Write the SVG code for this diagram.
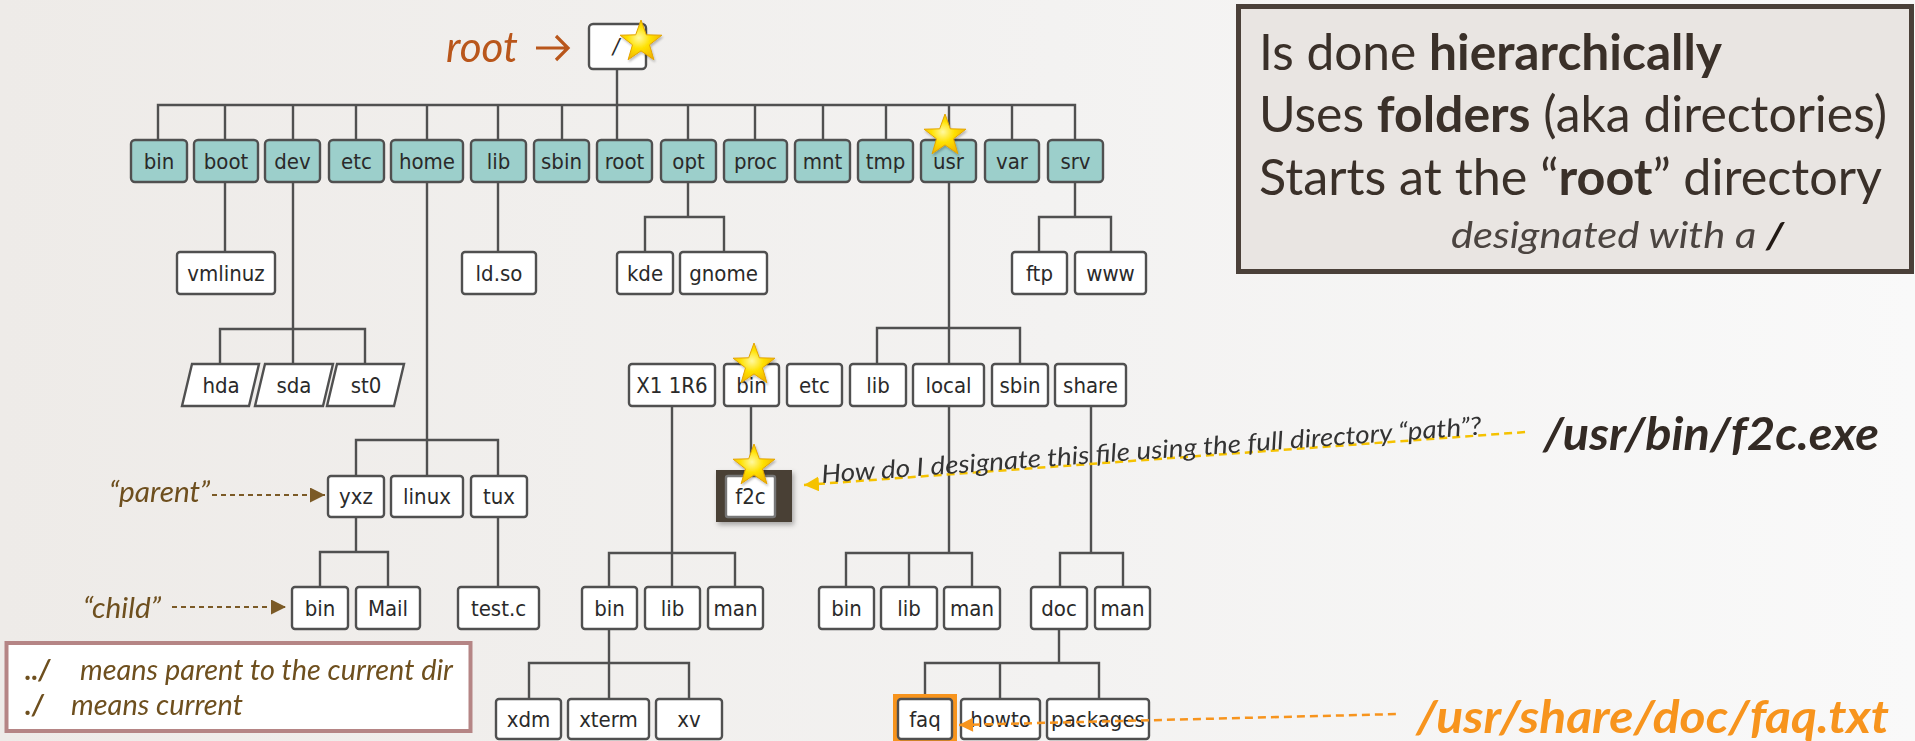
<svg xmlns="http://www.w3.org/2000/svg" width="1915" height="741" viewBox="0 0 1915 741">
<defs>
<linearGradient id="bg" x1="0" y1="0" x2="1" y2="0">
<stop offset="0" stop-color="#eeebe8"/><stop offset="0.55" stop-color="#f3f2f1"/><stop offset="1" stop-color="#f9f9f9"/>
</linearGradient>
<radialGradient id="starG" cx="0.45" cy="0.45" r="0.6">
<stop offset="0" stop-color="#fff9a0"/><stop offset="0.45" stop-color="#ffe100"/><stop offset="1" stop-color="#f0b000"/>
</radialGradient>
<path id="star" d="M0,-22 L5.3,-7.2 L20.9,-6.8 L8.5,2.8 L12.9,17.8 L0,8.9 L-12.9,17.8 L-8.5,2.8 L-20.9,-6.8 L-5.3,-7.2 Z"/>
<filter id="sh" x="-20%" y="-20%" width="150%" height="150%"><feDropShadow dx="2" dy="3" stdDeviation="2.5" flood-color="#000" flood-opacity="0.3"/></filter>
<filter id="sh2" x="-10%" y="-10%" width="130%" height="140%"><feDropShadow dx="1" dy="2" stdDeviation="1.2" flood-color="#000" flood-opacity="0.25"/></filter>
<marker id="aY" viewBox="0 0 10 10" refX="10" refY="5" markerUnits="userSpaceOnUse" markerWidth="15" markerHeight="15" orient="auto-start-reverse"><path d="M0,0 L10,5 L0,10 Z" fill="#f5c200"/></marker>
<marker id="aO" viewBox="0 0 10 10" refX="10" refY="5" markerUnits="userSpaceOnUse" markerWidth="15" markerHeight="14" orient="auto-start-reverse"><path d="M0,0 L10,5 L0,10 Z" fill="#f7941d"/></marker>
<marker id="aB" viewBox="0 0 10 10" refX="10" refY="5" markerUnits="userSpaceOnUse" markerWidth="15" markerHeight="15" orient="auto"><path d="M0,0 L10,5 L0,10 Z" fill="#7b5a26"/></marker>
</defs>
<style>
.n rect, .n polygon { fill:#ffffff; stroke:#505050; stroke-width:2.4; }
.t rect { fill:#9ccfcb; }
.n text { font-family:'DejaVu Sans Condensed','DejaVu Sans',sans-serif; font-stretch:condensed; font-size:22px; fill:#2a2a2a; text-anchor:middle; }
#connectors path { fill:none; stroke:#505050; stroke-width:2.4; }
.star use { fill:url(#starG); stroke:#e3a400; stroke-width:1; }
.cal { font-family:Lato,'Open Sans',sans-serif; }
.box { fill:#3a3029; font-size:50px; }
.br { fill:#6e4f1e; font-style:italic; }
</style>
<rect width="1915" height="741" fill="url(#bg)"/>

<g id="connectors">
<path d="M617,69 V140"/>
<path d="M158,140 V105 H1075 V140"/>
<path d="M225,105V140 M293,105V140 M356,105V140 M427,105V140 M498,105V140 M562,105V140 M688,105V140 M755,105V140 M823,105V140 M886,105V140 M949,105V140 M1012,105V140"/>
<path d="M225,182 V252"/>
<path d="M293,182 V364 M220,364 V329 H365 V364"/>
<path d="M427,182 V476 M356,476 V440 H498 V476"/>
<path d="M498,182 V252"/>
<path d="M688,182 V217 M645,252 V217 H724 V252"/>
<path d="M1075,182 V217 M1039,252 V217 H1111 V252"/>
<path d="M949,182 V364 M877,364 V328 H1020 V364"/>
<path d="M949,406 V553 M846,587 V553 H972 V587 M909,553 V587"/>
<path d="M672,406 V587 M609,587 V553 H735 V587"/>
<path d="M609,629 V699 M529,699 V663 H689 V699"/>
<path d="M751,406 V475"/>
<path d="M356,517 V552 M320,587 V552 H388 V587"/>
<path d="M498,517 V587"/>
<path d="M1091,406 V553 M1060,587 V553 H1123 V587"/>
<path d="M1059,629 V663 M925,699 V663 H1099 V699 M1000,663 V699"/>
</g>

<g id="n-slash" class="n"><rect x="589" y="24" width="57" height="45" rx="4"/><text x="616" y="54" font-style="italic">/</text></g>

<g id="n-bin" class="n t"><rect x="131" y="140" width="56" height="42" rx="4"/><text x="159" y="169">bin</text></g>
<g id="n-boot" class="n t"><rect x="194" y="140" width="64" height="42" rx="4"/><text x="226" y="169">boot</text></g>
<g id="n-dev" class="n t"><rect x="265" y="140" width="55" height="42" rx="4"/><text x="292.5" y="169">dev</text></g>
<g id="n-etc" class="n t"><rect x="329" y="140" width="55" height="42" rx="4"/><text x="356.5" y="169">etc</text></g>
<g id="n-home" class="n t"><rect x="391" y="140" width="72" height="42" rx="4"/><text x="427" y="169">home</text></g>
<g id="n-lib" class="n t"><rect x="471" y="140" width="55" height="42" rx="4"/><text x="498.5" y="169">lib</text></g>
<g id="n-sbin" class="n t"><rect x="534" y="140" width="55" height="42" rx="4"/><text x="561.5" y="169">sbin</text></g>
<g id="n-root" class="n t"><rect x="597" y="140" width="55" height="42" rx="4"/><text x="624.5" y="169">root</text></g>
<g id="n-opt" class="n t"><rect x="661" y="140" width="55" height="42" rx="4"/><text x="688.5" y="169">opt</text></g>
<g id="n-proc" class="n t"><rect x="724" y="140" width="63" height="42" rx="4"/><text x="755.5" y="169">proc</text></g>
<g id="n-mnt" class="n t"><rect x="795" y="140" width="55" height="42" rx="4"/><text x="822.5" y="169">mnt</text></g>
<g id="n-tmp" class="n t"><rect x="858" y="140" width="55" height="42" rx="4"/><text x="885.5" y="169">tmp</text></g>
<g id="n-usr" class="n t"><rect x="921" y="140" width="55" height="42" rx="4"/><text x="948.5" y="169">usr</text></g>
<g id="n-var" class="n t"><rect x="985" y="140" width="54" height="42" rx="4"/><text x="1012" y="169">var</text></g>
<g id="n-srv" class="n t"><rect x="1048" y="140" width="55" height="42" rx="4"/><text x="1075.5" y="169">srv</text></g>

<g id="n-vmlinuz" class="n"><rect x="177" y="252" width="98" height="42" rx="3"/><text x="226" y="281">vmlinuz</text></g>
<g id="n-ldso" class="n"><rect x="462" y="252" width="74" height="42" rx="3"/><text x="499" y="281">ld.so</text></g>
<g id="n-kde" class="n"><rect x="617" y="252" width="56" height="42" rx="3"/><text x="645" y="281">kde</text></g>
<g id="n-gnome" class="n"><rect x="680" y="252" width="87" height="42" rx="3"/><text x="723.5" y="281">gnome</text></g>
<g id="n-ftp" class="n"><rect x="1012" y="252" width="55" height="42" rx="3"/><text x="1039.5" y="281">ftp</text></g>
<g id="n-www" class="n"><rect x="1075" y="252" width="71" height="42" rx="3"/><text x="1110.5" y="281">www</text></g>

<g id="n-hda" class="n"><polygon points="192,364 259,364 249,406 182,406"/><text x="221" y="393">hda</text></g>
<g id="n-sda" class="n"><polygon points="265,364 333,364 323,406 255,406"/><text x="294" y="393">sda</text></g>
<g id="n-st0" class="n"><polygon points="337,364 404,364 394,406 327,406"/><text x="366" y="393">st0</text></g>
<g id="n-x11r6" class="n"><rect x="629" y="364" width="86" height="42" rx="3"/><text x="672" y="393">X1 1R6</text></g>
<g id="n-usr-bin" class="n"><rect x="724" y="364" width="55" height="42" rx="3"/><text x="751.5" y="393">bin</text></g>
<g id="n-usr-etc" class="n"><rect x="787" y="364" width="55" height="42" rx="3"/><text x="814.5" y="393">etc</text></g>
<g id="n-usr-lib" class="n"><rect x="850" y="364" width="56" height="42" rx="3"/><text x="878" y="393">lib</text></g>
<g id="n-local" class="n"><rect x="913" y="364" width="71" height="42" rx="3"/><text x="948.5" y="393">local</text></g>
<g id="n-usr-sbin" class="n"><rect x="992" y="364" width="56" height="42" rx="3"/><text x="1020" y="393">sbin</text></g>
<g id="n-share" class="n"><rect x="1055" y="364" width="71" height="42" rx="3"/><text x="1090.5" y="393">share</text></g>

<g id="n-yxz" class="n"><rect x="328" y="476" width="56" height="41" rx="3"/><text x="356" y="504">yxz</text></g>
<g id="n-linux" class="n"><rect x="391" y="476" width="72" height="41" rx="3"/><text x="427" y="504">linux</text></g>
<g id="n-tux" class="n"><rect x="471" y="476" width="56" height="41" rx="3"/><text x="499" y="504">tux</text></g>
<g id="n-f2c" class="n"><rect x="716" y="470" width="76" height="52" style="fill:#4a3f36;stroke:none" filter="url(#sh)"/><rect x="726" y="476" width="49" height="41" rx="2" style="stroke:#777"/><text x="750.5" y="504">f2c</text></g>

<g id="n-yxz-bin" class="n"><rect x="292" y="587" width="56" height="42" rx="3"/><text x="320" y="616">bin</text></g>
<g id="n-mail" class="n"><rect x="356" y="587" width="64" height="42" rx="3"/><text x="388" y="616">Mail</text></g>
<g id="n-testc" class="n"><rect x="458" y="587" width="81" height="42" rx="3"/><text x="498.5" y="616">test.c</text></g>
<g id="n-x-bin" class="n"><rect x="582" y="587" width="55" height="42" rx="3"/><text x="609.5" y="616">bin</text></g>
<g id="n-x-lib" class="n"><rect x="645" y="587" width="55" height="42" rx="3"/><text x="672.5" y="616">lib</text></g>
<g id="n-x-man" class="n"><rect x="708" y="587" width="55" height="42" rx="3"/><text x="735.5" y="616">man</text></g>
<g id="n-l-bin" class="n"><rect x="819" y="587" width="55" height="42" rx="3"/><text x="846.5" y="616">bin</text></g>
<g id="n-l-lib" class="n"><rect x="881" y="587" width="56" height="42" rx="3"/><text x="909" y="616">lib</text></g>
<g id="n-l-man" class="n"><rect x="944" y="587" width="56" height="42" rx="3"/><text x="972" y="616">man</text></g>
<g id="n-doc" class="n"><rect x="1031" y="587" width="56" height="42" rx="3"/><text x="1059" y="616">doc</text></g>
<g id="n-s-man" class="n"><rect x="1095" y="587" width="55" height="42" rx="3"/><text x="1122.5" y="616">man</text></g>

<g id="n-xdm" class="n"><rect x="496" y="699" width="65" height="40" rx="3"/><text x="528.5" y="727">xdm</text></g>
<g id="n-xterm" class="n"><rect x="568" y="699" width="81" height="40" rx="3"/><text x="608.5" y="727">xterm</text></g>
<g id="n-xv" class="n"><rect x="656" y="699" width="66" height="40" rx="3"/><text x="689" y="727">xv</text></g>
<g id="n-faq" class="n"><rect x="893" y="694" width="64" height="50" style="fill:#f7941d;stroke:none"/><rect x="898" y="699" width="54" height="40" rx="3"/><text x="925" y="727">faq</text></g>
<g id="n-howto" class="n"><rect x="961" y="699" width="79" height="40" rx="3"/><text x="1000.5" y="727">howto</text></g>
<g id="n-packages" class="n"><rect x="1047" y="699" width="102" height="40" rx="3"/><text x="1098" y="727">packages</text></g>

<g id="stars" class="star" filter="url(#sh2)">
<use href="#star" x="641" y="42"/>
<use href="#star" x="945" y="136"/>
<use href="#star" x="754" y="365"/>
<use href="#star" x="754" y="466"/>
</g>

<g id="root-label">
<text x="446" y="62" class="cal" font-size="42" font-style="italic" fill="#b9561b" textLength="72" lengthAdjust="spacingAndGlyphs">root</text>
<path d="M536,48 H568 M556,36 L568,48 L556,60" fill="none" stroke="#b9561b" stroke-width="3.2"/>
</g>

<g id="info-box">
<rect x="1238.5" y="6.5" width="673" height="265" fill="#e9e5e2" stroke="#4a4039" stroke-width="5"/>
<text x="1259" y="70" class="cal box" textLength="463" lengthAdjust="spacingAndGlyphs">Is done <tspan font-weight="bold">hierarchically</tspan></text>
<text x="1259" y="132" class="cal box" textLength="628" lengthAdjust="spacingAndGlyphs">Uses <tspan font-weight="bold">folders</tspan> (aka directories)</text>
<text x="1259" y="195" class="cal box" textLength="623" lengthAdjust="spacingAndGlyphs">Starts at the “<tspan font-weight="bold">root</tspan>” directory</text>
<text x="1451" y="248" class="cal" font-size="37" font-style="italic" fill="#4b4440" textLength="333" lengthAdjust="spacingAndGlyphs">designated with a <tspan font-weight="bold" fill="#221a15">/</tspan></text>
</g>

<g id="f2c-question">
<path d="M804,485 L1526,432" fill="none" stroke="#f5c200" stroke-width="2.5" stroke-dasharray="8 5" marker-start="url(#aY)"/>
<text x="822" y="483" transform="rotate(-4.2 822 483)" class="cal" font-size="25" font-style="italic" fill="#333" textLength="662" lengthAdjust="spacingAndGlyphs">How do I designate this file using the full directory “path”?</text>
<text x="1543" y="450" class="cal" font-size="46" font-weight="bold" font-style="italic" fill="#332a24" textLength="336" lengthAdjust="spacingAndGlyphs">/usr/bin/f2c.exe</text>
</g>

<g id="faq-path">
<path d="M959,725 L1399,714" fill="none" stroke="#f7941d" stroke-width="2.5" stroke-dasharray="8 5" marker-start="url(#aO)"/>
<text x="1416" y="733" class="cal" font-size="46" font-weight="bold" font-style="italic" fill="#f7941d" textLength="473" lengthAdjust="spacingAndGlyphs">/usr/share/doc/faq.txt</text>
</g>

<g id="parent-label">
<text x="109" y="502" class="cal br" font-size="29" textLength="101" lengthAdjust="spacingAndGlyphs">“parent”</text>
<path d="M212,495 H325" fill="none" stroke="#7b5a26" stroke-width="2" stroke-dasharray="5 4" marker-end="url(#aB)"/>
</g>
<g id="child-label">
<text x="83" y="618" class="cal br" font-size="29" textLength="78" lengthAdjust="spacingAndGlyphs">“child”</text>
<path d="M172,607 H286" fill="none" stroke="#7b5a26" stroke-width="2" stroke-dasharray="5 4" marker-end="url(#aB)"/>
</g>

<g id="legend">
<rect x="6.5" y="643" width="464" height="88" fill="#ffffff" stroke="#b58585" stroke-width="4"/>
<text x="25" y="680" class="cal br" font-size="28" font-weight="bold">../</text>
<text x="80" y="680" class="cal br" font-size="28" textLength="373" lengthAdjust="spacingAndGlyphs">means parent to the current dir</text>
<text x="25" y="715" class="cal br" font-size="28" font-weight="bold">./</text>
<text x="71" y="715" class="cal br" font-size="28" textLength="172" lengthAdjust="spacingAndGlyphs">means current</text>
</g>
</svg>
